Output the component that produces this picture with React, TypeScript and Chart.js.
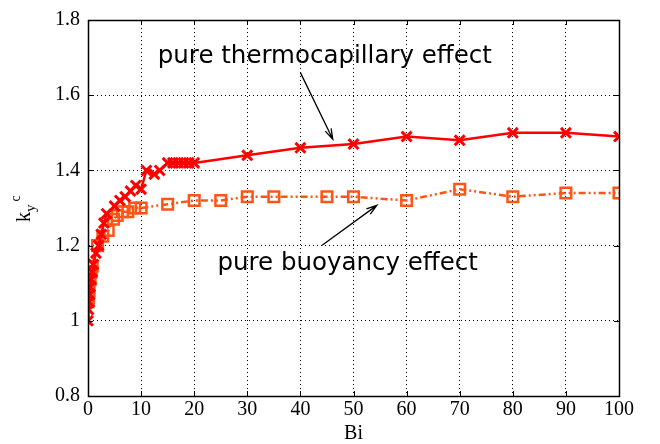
import React, { useEffect, useRef } from 'react';
import { Chart, registerables } from 'chart.js';
Chart.register(...registerables);

// pure thermocapillary effect
const thermoBi = [0, 0.1, 0.2, 0.3, 0.4, 0.6, 0.8, 1, 1.5, 2, 2.5, 3, 3.5, 5, 6, 7, 8, 9, 10, 11, 12.5, 13.5, 15, 16, 17, 18, 19, 20, 30, 40, 50, 60, 70, 80, 90, 100];
const thermoK = [1.0, 1.03, 1.05, 1.07, 1.09, 1.11, 1.13, 1.15, 1.18, 1.2, 1.23, 1.26, 1.285, 1.305, 1.32, 1.33, 1.345, 1.36, 1.35, 1.40, 1.39, 1.40, 1.42, 1.42, 1.42, 1.42, 1.42, 1.42, 1.44, 1.46, 1.47, 1.49, 1.48, 1.50, 1.50, 1.49];

// pure buoyancy effect
const buoyBi = [0, 0.1, 0.2, 0.4, 0.6, 0.8, 1.8, 2.8, 3.8, 4.8, 5.5, 6.5, 7.5, 8.8, 10, 15, 20, 25, 30, 35, 45, 50, 60, 70, 80, 90, 100];
const buoyK = [1.05, 1.06, 1.08, 1.11, 1.13, 1.145, 1.20, 1.225, 1.24, 1.27, 1.28, 1.29, 1.29, 1.30, 1.30, 1.31, 1.32, 1.32, 1.33, 1.33, 1.33, 1.33, 1.32, 1.35, 1.33, 1.34, 1.34];

const xTicks = [0, 10, 20, 30, 40, 50, 60, 70, 80, 90, 100];
const yTicks = [0.8, 1.0, 1.2, 1.4, 1.6, 1.8];

const thermoLabel = 'pure thermocapillary effect';
const buoyLabel = 'pure buoyancy effect';

export default function App() {
  const ref = useRef<HTMLCanvasElement>(null);
  useEffect(() => {
    if (!ref.current) return;
    const arrow = (ctx: CanvasRenderingContext2D, x1: number, y1: number, x2: number, y2: number) => {
      const ang = Math.atan2(y2 - y1, x2 - x1);
      const h = 11, w = 0.3;
      ctx.beginPath();
      ctx.moveTo(x1, y1);
      ctx.lineTo(x2, y2);
      ctx.moveTo(x2 - h * Math.cos(ang - w), y2 - h * Math.sin(ang - w));
      ctx.lineTo(x2, y2);
      ctx.lineTo(x2 - h * Math.cos(ang + w), y2 - h * Math.sin(ang + w));
      ctx.stroke();
    };
    const decor = {
      id: 'decor',
      afterDraw(chart: any) {
        const { ctx, chartArea: a, scales } = chart;
        const x = scales.x, y = scales.y;
        ctx.save();
        ctx.strokeStyle = '#000';
        ctx.lineWidth = 1;
        ctx.beginPath();
        xTicks.forEach((v) => {
          const px = Math.round(x.getPixelForValue(v)) + 0.5;
          ctx.moveTo(px, a.bottom); ctx.lineTo(px, a.bottom - 5);
          ctx.moveTo(px, a.top); ctx.lineTo(px, a.top + 5);
        });
        yTicks.forEach((v) => {
          const py = Math.round(y.getPixelForValue(v)) + 0.5;
          ctx.moveTo(a.left, py); ctx.lineTo(a.left + 5, py);
          ctx.moveTo(a.right, py); ctx.lineTo(a.right - 5, py);
        });
        ctx.stroke();
        ctx.lineWidth = 1.5;
        ctx.strokeRect(Math.round(a.left) + 0.5, Math.round(a.top) + 0.5, Math.round(a.right - a.left), Math.round(a.bottom - a.top));

        // annotations
        ctx.fillStyle = '#000';
        ctx.font = "24.5px 'DejaVu Sans'";
        ctx.textAlign = 'center';
        ctx.textBaseline = 'middle';
        ctx.fillText(thermoLabel, x.getPixelForValue(44.6), y.getPixelForValue(1.703));
        ctx.fillText(buoyLabel, x.getPixelForValue(48.9), y.getPixelForValue(1.152));
        ctx.lineWidth = 1.3;
        arrow(ctx, x.getPixelForValue(40), y.getPixelForValue(1.66), x.getPixelForValue(46.1), y.getPixelForValue(1.483));
        arrow(ctx, x.getPixelForValue(44.1), y.getPixelForValue(1.201), x.getPixelForValue(54.4), y.getPixelForValue(1.307));

        // axis titles
        ctx.font = "20px 'Liberation Serif'";
        ctx.textAlign = 'center';
        ctx.textBaseline = 'alphabetic';
        ctx.fillText('Bi', (a.left + a.right) / 2, a.bottom + 43);

        ctx.save();
        const cy = (a.top + a.bottom) / 2;
        ctx.translate(a.left - 58, cy + 14);
        ctx.rotate(-Math.PI / 2);
        ctx.textAlign = 'left';
        ctx.font = "20px 'Liberation Serif'";
        ctx.fillText('k', 0, 0);
        const kw = ctx.measureText('k').width;
        ctx.font = "15px 'Liberation Serif'";
        ctx.fillText('y', kw, 5);
        const yw = ctx.measureText('y').width;
        ctx.font = "14px 'Liberation Serif'";
        ctx.fillText('c', kw + yw + 3, -10);
        ctx.restore();
        ctx.restore();
      },
    };

    const chart = new Chart(ref.current, {
      type: 'scatter',
      data: {
        datasets: [
          {
            label: thermoLabel,
            data: thermoBi.map((b, i) => ({ x: b, y: thermoK[i] })),
            showLine: true,
            borderColor: 'rgb(255,0,0)',
            backgroundColor: 'rgb(255,0,0)',
            borderWidth: 2.5,
            pointStyle: 'crossRot',
            pointRadius: 7,
            pointBorderWidth: 3,
            pointBorderColor: 'rgb(255,0,0)',
          },
          {
            label: buoyLabel,
            data: buoyBi.map((b, i) => ({ x: b, y: buoyK[i] })),
            showLine: true,
            borderColor: 'rgb(255,85,20)',
            backgroundColor: 'rgba(255,255,255,0)',
            borderWidth: 2.5,
            borderDash: [7, 3, 2, 3, 2, 3],
            pointStyle: 'rect',
            pointRadius: 7.5,
            pointBorderWidth: 2.5,
            pointBorderColor: 'rgb(255,85,20)',
          },
        ],
      },
      options: {
        animation: false,
        responsive: false,
        maintainAspectRatio: false,
        layout: { padding: { left: 0, top: 17, right: 41, bottom: 0 } },
        plugins: { legend: { display: false }, tooltip: { enabled: false } },
        scales: {
          x: {
            type: 'linear',
            min: 0,
            max: 100,
            afterFit: (s: any) => { s.height = 48; },
            afterBuildTicks: (s: any) => { s.ticks = xTicks.map((v) => ({ value: v })); },
            ticks: { color: '#000', font: { family: 'Liberation Serif', size: 20 }, padding: 2, maxRotation: 0 },
            grid: { color: '#000', lineWidth: 1, drawTicks: false },
            border: { display: true, color: '#000', dash: [1, 3] },
          },
          y: {
            type: 'linear',
            min: 0.8,
            max: 1.8,
            afterFit: (s: any) => { s.width = 88; },
            afterBuildTicks: (s: any) => { s.ticks = yTicks.map((v) => ({ value: v })); },
            ticks: {
              color: '#000',
              font: { family: 'Liberation Serif', size: 20 },
              padding: 8,
              callback: (v: any) => (Math.abs(v - 1) < 1e-9 ? '1' : Number(v).toFixed(1)),
            },
            grid: { color: '#000', lineWidth: 1, drawTicks: false },
            border: { display: true, color: '#000', dash: [1, 3] },
          },
        },
      },
      plugins: [decor],
    });
    return () => chart.destroy();
  }, []);

  return (
    <div style={{ position: 'absolute', left: 0, top: 0, width: 660, height: 444, background: '#fff' }}>
      <canvas ref={ref} width={660} height={444} style={{ width: 660, height: 444 }} />
    </div>
  );
}
